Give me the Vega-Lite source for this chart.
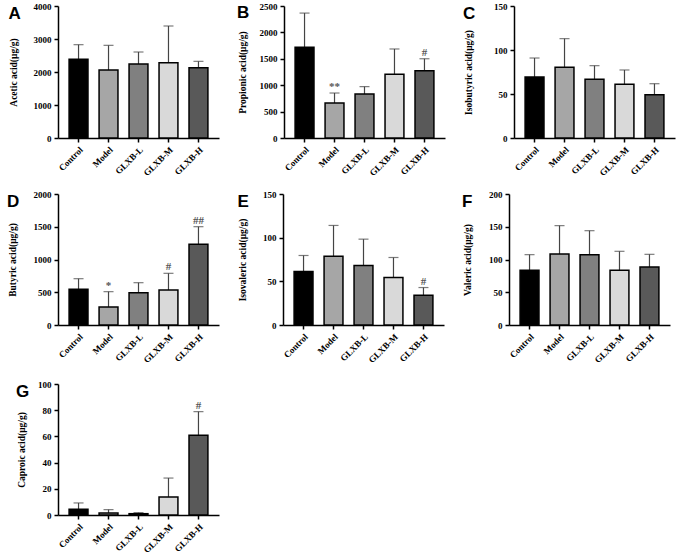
{
  "$schema": "https://vega.github.io/schema/vega-lite/v6.json",
  "background": "white",
  "padding": {"left": 7, "top": 1, "right": 2, "bottom": 0},
  "datasets": {
    "scfa": [
      {"acid": "A", "group": "Control", "mean": 2384, "upper": 2828, "sig": ""},
      {"acid": "A", "group": "Model", "mean": 2061, "upper": 2808, "sig": ""},
      {"acid": "A", "group": "GLXB-L", "mean": 2242, "upper": 2606, "sig": ""},
      {"acid": "A", "group": "GLXB-M", "mean": 2283, "upper": 3394, "sig": ""},
      {"acid": "A", "group": "GLXB-H", "mean": 2131, "upper": 2323, "sig": ""},
      {"acid": "B", "group": "Control", "mean": 1718, "upper": 2366, "sig": ""},
      {"acid": "B", "group": "Model", "mean": 662, "upper": 852, "sig": "**"},
      {"acid": "B", "group": "GLXB-L", "mean": 833, "upper": 973, "sig": ""},
      {"acid": "B", "group": "GLXB-M", "mean": 1209, "upper": 1686, "sig": ""},
      {"acid": "B", "group": "GLXB-H", "mean": 1272, "upper": 1501, "sig": "#"},
      {"acid": "C", "group": "Control", "mean": 69.3, "upper": 90.9, "sig": ""},
      {"acid": "C", "group": "Model", "mean": 80.3, "upper": 112.9, "sig": ""},
      {"acid": "C", "group": "GLXB-L", "mean": 66.7, "upper": 82.2, "sig": ""},
      {"acid": "C", "group": "GLXB-M", "mean": 61.0, "upper": 77.3, "sig": ""},
      {"acid": "C", "group": "GLXB-H", "mean": 49.2, "upper": 61.7, "sig": ""},
      {"acid": "D", "group": "Control", "mean": 545, "upper": 707, "sig": ""},
      {"acid": "D", "group": "Model", "mean": 275, "upper": 509, "sig": "*"},
      {"acid": "D", "group": "GLXB-L", "mean": 494, "upper": 646, "sig": ""},
      {"acid": "D", "group": "GLXB-M", "mean": 534, "upper": 789, "sig": "#"},
      {"acid": "D", "group": "GLXB-H", "mean": 1232, "upper": 1501, "sig": "##"},
      {"acid": "E", "group": "Control", "mean": 61.2, "upper": 79.6, "sig": ""},
      {"acid": "E", "group": "Model", "mean": 78.8, "upper": 114.0, "sig": ""},
      {"acid": "E", "group": "GLXB-L", "mean": 68.1, "upper": 98.3, "sig": ""},
      {"acid": "E", "group": "GLXB-M", "mean": 54.3, "upper": 77.3, "sig": ""},
      {"acid": "E", "group": "GLXB-H", "mean": 34.1, "upper": 42.9, "sig": "#"},
      {"acid": "F", "group": "Control", "mean": 83.5, "upper": 107.4, "sig": ""},
      {"acid": "F", "group": "Model", "mean": 108.4, "upper": 151.7, "sig": ""},
      {"acid": "F", "group": "GLXB-L", "mean": 107.4, "upper": 144.0, "sig": ""},
      {"acid": "F", "group": "GLXB-M", "mean": 83.5, "upper": 112.5, "sig": ""},
      {"acid": "F", "group": "GLXB-H", "mean": 88.5, "upper": 107.9, "sig": ""},
      {"acid": "G", "group": "Control", "mean": 4.3, "upper": 9.2, "sig": ""},
      {"acid": "G", "group": "Model", "mean": 1.5, "upper": 4.1, "sig": ""},
      {"acid": "G", "group": "GLXB-L", "mean": 1.0, "upper": 1.8, "sig": ""},
      {"acid": "G", "group": "GLXB-M", "mean": 13.7, "upper": 28.2, "sig": ""},
      {"acid": "G", "group": "GLXB-H", "mean": 60.8, "upper": 78.9, "sig": "#"}
    ]
  },
  "config": {
    "view": {"stroke": null},
    "font": "Liberation Serif",
    "title": {"font": "Liberation Sans", "fontWeight": "bold", "fontSize": 17, "anchor": "start", "frame": "bounds", "offset": -21, "color": "black"},
    "axis": {
      "grid": false,
      "domainColor": "black",
      "domainWidth": 1.5,
      "tickColor": "black",
      "tickWidth": 1.5,
      "tickSize": 4,
      "labelFont": "Liberation Serif",
      "labelFontWeight": "bold",
      "labelFontSize": 9,
      "labelColor": "black",
      "titleFont": "Liberation Serif",
      "titleFontWeight": "bold",
      "titleFontSize": 9.5,
      "titleColor": "black"
    },
    "axisX": {"labelAngle": -45, "title": null, "labelPadding": 3, "labelFontSize": 9},
    "axisY": {"format": "d", "labelOverlap": false, "labelPadding": 3}
  },
  "spacing": 15,
  "vconcat": [
    {
      "spacing": 12,
      "vconcat": [
        {
          "spacing": 18,
          "hconcat": [
            {
              "title": "A",
              "width": 161, "height": 132,
              "data": {"name": "scfa"},
              "transform": [{"filter": "datum.acid === 'A'"}],
              "encoding": {
                "x": {"field": "group", "type": "nominal", "sort": ["Control", "Model", "GLXB-L", "GLXB-M", "GLXB-H"], "scale": {"paddingInner": 0.37, "paddingOuter": 0.37}},
                "y": {"field": "mean", "type": "quantitative", "title": "Acetic acid(μg/g)", "scale": {"domain": [0, 4000], "nice": false}, "axis": {"values": [0, 1000, 2000, 3000, 4000], "titlePadding": 14.5}}
              },
              "layer": [
                {"mark": {"type": "rule", "color": "#444", "strokeWidth": 1.2}, "encoding": {"y2": {"field": "upper"}}},
                {"mark": {"type": "tick", "color": "#444", "thickness": 1.2, "size": 10}, "encoding": {"y": {"field": "upper", "type": "quantitative", "title": "Acetic acid(μg/g)", "axis": {"values": [0, 1000, 2000, 3000, 4000], "titlePadding": 14.5}}}},
                {"mark": {"type": "bar", "stroke": "black", "strokeWidth": 1.5}, "encoding": {
                  "fill": {"field": "group", "type": "nominal", "scale": {"domain": ["Control", "Model", "GLXB-L", "GLXB-M", "GLXB-H"], "range": ["#000000", "#a6a6a6", "#808080", "#d9d9d9", "#595959"]}, "legend": null}}},
                {"mark": {"type": "text", "baseline": "bottom", "dy": -1, "fontSize": 11, "fontWeight": "bold", "color": "#555"}, "encoding": {"y": {"field": "upper", "type": "quantitative", "title": "Acetic acid(μg/g)", "axis": {"values": [0, 1000, 2000, 3000, 4000], "titlePadding": 14.5}}, "text": {"field": "sig"}}}
              ]
            },
            {
              "title": "B",
              "width": 161, "height": 132,
              "data": {"name": "scfa"},
              "transform": [{"filter": "datum.acid === 'B'"}],
              "encoding": {
                "x": {"field": "group", "type": "nominal", "sort": ["Control", "Model", "GLXB-L", "GLXB-M", "GLXB-H"], "scale": {"paddingInner": 0.37, "paddingOuter": 0.37}},
                "y": {"field": "mean", "type": "quantitative", "title": "Propionic acid(μg/g)", "scale": {"domain": [0, 2500], "nice": false}, "axis": {"values": [0, 500, 1000, 1500, 2000, 2500], "titlePadding": 12}}
              },
              "layer": [
                {"mark": {"type": "rule", "color": "#444", "strokeWidth": 1.2}, "encoding": {"y2": {"field": "upper"}}},
                {"mark": {"type": "tick", "color": "#444", "thickness": 1.2, "size": 10}, "encoding": {"y": {"field": "upper", "type": "quantitative", "title": "Propionic acid(μg/g)", "axis": {"values": [0, 500, 1000, 1500, 2000, 2500], "titlePadding": 12}}}},
                {"mark": {"type": "bar", "stroke": "black", "strokeWidth": 1.5}, "encoding": {
                  "fill": {"field": "group", "type": "nominal", "scale": {"domain": ["Control", "Model", "GLXB-L", "GLXB-M", "GLXB-H"], "range": ["#000000", "#a6a6a6", "#808080", "#d9d9d9", "#595959"]}, "legend": null}}},
                {"mark": {"type": "text", "baseline": "bottom", "dy": -1, "fontSize": 11, "fontWeight": "bold", "color": "#555"}, "encoding": {"y": {"field": "upper", "type": "quantitative", "title": "Propionic acid(μg/g)", "axis": {"values": [0, 500, 1000, 1500, 2000, 2500], "titlePadding": 12}}, "text": {"field": "sig"}}}
              ]
            },
            {
              "title": "C",
              "width": 161, "height": 132,
              "data": {"name": "scfa"},
              "transform": [{"filter": "datum.acid === 'C'"}],
              "encoding": {
                "x": {"field": "group", "type": "nominal", "sort": ["Control", "Model", "GLXB-L", "GLXB-M", "GLXB-H"], "scale": {"paddingInner": 0.37, "paddingOuter": 0.37}},
                "y": {"field": "mean", "type": "quantitative", "title": "Isobutyric acid(μg/g)", "scale": {"domain": [0, 150], "nice": false}, "axis": {"values": [0, 50, 100, 150], "titlePadding": 20.5}}
              },
              "layer": [
                {"mark": {"type": "rule", "color": "#444", "strokeWidth": 1.2}, "encoding": {"y2": {"field": "upper"}}},
                {"mark": {"type": "tick", "color": "#444", "thickness": 1.2, "size": 10}, "encoding": {"y": {"field": "upper", "type": "quantitative", "title": "Isobutyric acid(μg/g)", "axis": {"values": [0, 50, 100, 150], "titlePadding": 20.5}}}},
                {"mark": {"type": "bar", "stroke": "black", "strokeWidth": 1.5}, "encoding": {
                  "fill": {"field": "group", "type": "nominal", "scale": {"domain": ["Control", "Model", "GLXB-L", "GLXB-M", "GLXB-H"], "range": ["#000000", "#a6a6a6", "#808080", "#d9d9d9", "#595959"]}, "legend": null}}},
                {"mark": {"type": "text", "baseline": "bottom", "dy": -1, "fontSize": 11, "fontWeight": "bold", "color": "#555"}, "encoding": {"y": {"field": "upper", "type": "quantitative", "title": "Isobutyric acid(μg/g)", "axis": {"values": [0, 50, 100, 150], "titlePadding": 20.5}}, "text": {"field": "sig"}}}
              ]
            }
          ]
        },
        {
          "spacing": 18,
          "hconcat": [
            {
              "title": "D",
              "width": 161, "height": 131,
              "data": {"name": "scfa"},
              "transform": [{"filter": "datum.acid === 'D'"}],
              "encoding": {
                "x": {"field": "group", "type": "nominal", "sort": ["Control", "Model", "GLXB-L", "GLXB-M", "GLXB-H"], "scale": {"paddingInner": 0.37, "paddingOuter": 0.37}},
                "y": {"field": "mean", "type": "quantitative", "title": "Butyric acid(μg/g)", "scale": {"domain": [0, 2000], "nice": false}, "axis": {"values": [0, 500, 1000, 1500, 2000], "titlePadding": 16}}
              },
              "layer": [
                {"mark": {"type": "rule", "color": "#444", "strokeWidth": 1.2}, "encoding": {"y2": {"field": "upper"}}},
                {"mark": {"type": "tick", "color": "#444", "thickness": 1.2, "size": 10}, "encoding": {"y": {"field": "upper", "type": "quantitative", "title": "Butyric acid(μg/g)", "axis": {"values": [0, 500, 1000, 1500, 2000], "titlePadding": 16}}}},
                {"mark": {"type": "bar", "stroke": "black", "strokeWidth": 1.5}, "encoding": {
                  "fill": {"field": "group", "type": "nominal", "scale": {"domain": ["Control", "Model", "GLXB-L", "GLXB-M", "GLXB-H"], "range": ["#000000", "#a6a6a6", "#808080", "#d9d9d9", "#595959"]}, "legend": null}}},
                {"mark": {"type": "text", "baseline": "bottom", "dy": -1, "fontSize": 11, "fontWeight": "bold", "color": "#555"}, "encoding": {"y": {"field": "upper", "type": "quantitative", "title": "Butyric acid(μg/g)", "axis": {"values": [0, 500, 1000, 1500, 2000], "titlePadding": 16}}, "text": {"field": "sig"}}}
              ]
            },
            {
              "title": "E",
              "width": 161, "height": 131,
              "data": {"name": "scfa"},
              "transform": [{"filter": "datum.acid === 'E'"}],
              "encoding": {
                "x": {"field": "group", "type": "nominal", "sort": ["Control", "Model", "GLXB-L", "GLXB-M", "GLXB-H"], "scale": {"paddingInner": 0.37, "paddingOuter": 0.37}},
                "y": {"field": "mean", "type": "quantitative", "title": "Isovaleric acid(μg/g)", "scale": {"domain": [0, 150], "nice": false}, "axis": {"values": [0, 50, 100, 150], "titlePadding": 15}}
              },
              "layer": [
                {"mark": {"type": "rule", "color": "#444", "strokeWidth": 1.2}, "encoding": {"y2": {"field": "upper"}}},
                {"mark": {"type": "tick", "color": "#444", "thickness": 1.2, "size": 10}, "encoding": {"y": {"field": "upper", "type": "quantitative", "title": "Isovaleric acid(μg/g)", "axis": {"values": [0, 50, 100, 150], "titlePadding": 15}}}},
                {"mark": {"type": "bar", "stroke": "black", "strokeWidth": 1.5}, "encoding": {
                  "fill": {"field": "group", "type": "nominal", "scale": {"domain": ["Control", "Model", "GLXB-L", "GLXB-M", "GLXB-H"], "range": ["#000000", "#a6a6a6", "#808080", "#d9d9d9", "#595959"]}, "legend": null}}},
                {"mark": {"type": "text", "baseline": "bottom", "dy": -1, "fontSize": 11, "fontWeight": "bold", "color": "#555"}, "encoding": {"y": {"field": "upper", "type": "quantitative", "title": "Isovaleric acid(μg/g)", "axis": {"values": [0, 50, 100, 150], "titlePadding": 15}}, "text": {"field": "sig"}}}
              ]
            },
            {
              "title": "F",
              "width": 161, "height": 131,
              "data": {"name": "scfa"},
              "transform": [{"filter": "datum.acid === 'F'"}],
              "encoding": {
                "x": {"field": "group", "type": "nominal", "sort": ["Control", "Model", "GLXB-L", "GLXB-M", "GLXB-H"], "scale": {"paddingInner": 0.37, "paddingOuter": 0.37}},
                "y": {"field": "mean", "type": "quantitative", "title": "Valeric acid(μg/g)", "scale": {"domain": [0, 200], "nice": false}, "axis": {"values": [0, 50, 100, 150, 200], "titlePadding": 16.5}}
              },
              "layer": [
                {"mark": {"type": "rule", "color": "#444", "strokeWidth": 1.2}, "encoding": {"y2": {"field": "upper"}}},
                {"mark": {"type": "tick", "color": "#444", "thickness": 1.2, "size": 10}, "encoding": {"y": {"field": "upper", "type": "quantitative", "title": "Valeric acid(μg/g)", "axis": {"values": [0, 50, 100, 150, 200], "titlePadding": 16.5}}}},
                {"mark": {"type": "bar", "stroke": "black", "strokeWidth": 1.5}, "encoding": {
                  "fill": {"field": "group", "type": "nominal", "scale": {"domain": ["Control", "Model", "GLXB-L", "GLXB-M", "GLXB-H"], "range": ["#000000", "#a6a6a6", "#808080", "#d9d9d9", "#595959"]}, "legend": null}}},
                {"mark": {"type": "text", "baseline": "bottom", "dy": -1, "fontSize": 11, "fontWeight": "bold", "color": "#555"}, "encoding": {"y": {"field": "upper", "type": "quantitative", "title": "Valeric acid(μg/g)", "axis": {"values": [0, 50, 100, 150, 200], "titlePadding": 16.5}}, "text": {"field": "sig"}}}
              ]
            }
          ]
        }
      ]
    },
    {
      "title": "G",
      "width": 161, "height": 131,
      "data": {"name": "scfa"},
      "transform": [{"filter": "datum.acid === 'G'"}],
      "encoding": {
        "x": {"field": "group", "type": "nominal", "sort": ["Control", "Model", "GLXB-L", "GLXB-M", "GLXB-H"], "scale": {"paddingInner": 0.37, "paddingOuter": 0.37}},
        "y": {"field": "mean", "type": "quantitative", "title": "Caproic acid(μg/g)", "scale": {"domain": [0, 100], "nice": false}, "axis": {"values": [0, 20, 40, 60, 80, 100], "titlePadding": 11.5}}
      },
      "layer": [
        {"mark": {"type": "rule", "color": "#444", "strokeWidth": 1.2}, "encoding": {"y2": {"field": "upper"}}},
        {"mark": {"type": "tick", "color": "#444", "thickness": 1.2, "size": 10}, "encoding": {"y": {"field": "upper", "type": "quantitative", "title": "Caproic acid(μg/g)", "axis": {"values": [0, 20, 40, 60, 80, 100], "titlePadding": 11.5}}}},
        {"mark": {"type": "bar", "stroke": "black", "strokeWidth": 1.5}, "encoding": {
          "fill": {"field": "group", "type": "nominal", "scale": {"domain": ["Control", "Model", "GLXB-L", "GLXB-M", "GLXB-H"], "range": ["#000000", "#a6a6a6", "#808080", "#d9d9d9", "#595959"]}, "legend": null}}},
        {"mark": {"type": "text", "baseline": "bottom", "dy": -1, "fontSize": 11, "fontWeight": "bold", "color": "#555"}, "encoding": {"y": {"field": "upper", "type": "quantitative", "title": "Caproic acid(μg/g)", "axis": {"values": [0, 20, 40, 60, 80, 100], "titlePadding": 11.5}}, "text": {"field": "sig"}}}
      ]
    }
  ]
}
